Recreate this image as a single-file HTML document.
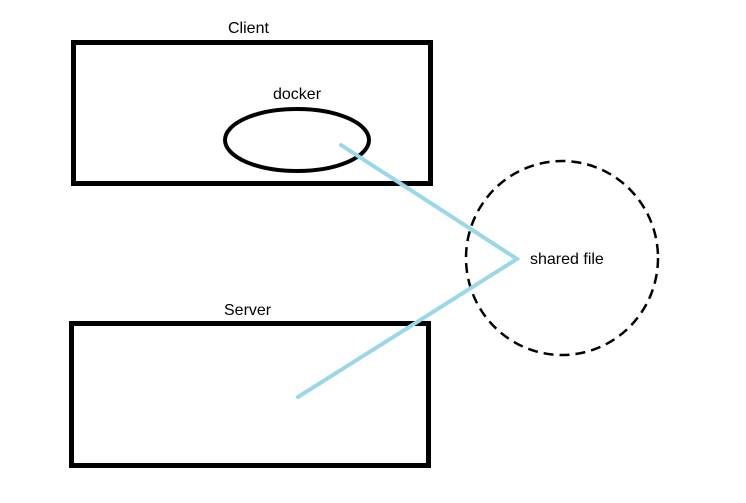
<!DOCTYPE html>
<html><head><meta charset="utf-8"><style>
html,body{margin:0;padding:0;background:#fff;width:746px;height:503px;overflow:hidden}
svg{display:block}
text{font-family:"Liberation Sans","DejaVu Sans",sans-serif;font-size:16px;fill:#000}
</style></head><body>
<svg width="746" height="503" viewBox="0 0 746 503" xmlns="http://www.w3.org/2000/svg">
<rect x="73.5" y="42.5" width="357" height="141" fill="none" stroke="#000" stroke-width="5"/>
<rect x="71.5" y="323.5" width="357" height="142" fill="none" stroke="#000" stroke-width="5"/>
<ellipse cx="297" cy="140" rx="72" ry="31" fill="none" stroke="#000" stroke-width="4"/>
<ellipse cx="562" cy="258" rx="96" ry="97" fill="none" stroke="#000" stroke-width="2.5" stroke-dasharray="10,6"/>
<polyline points="341,145 517,259 298,397" fill="none" stroke="#9bd7e8" stroke-width="4" stroke-linecap="round" stroke-linejoin="miter"/>
<text x="228" y="33">Client</text>
<text x="273" y="99">docker</text>
<text x="224" y="315">Server</text>
<text x="530" y="264">shared file</text>
</svg>
</body></html>
